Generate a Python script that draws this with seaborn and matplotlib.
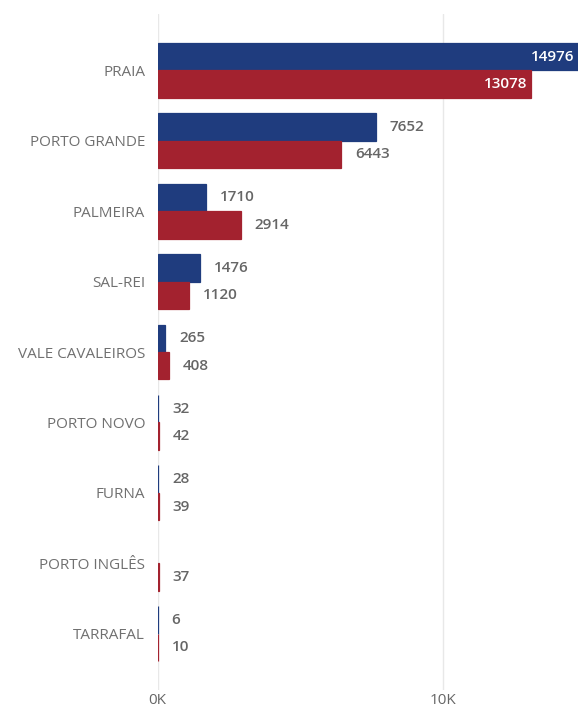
import matplotlib
matplotlib.use("Agg")
import matplotlib.pyplot as plt
import numpy as np
import pandas as pd
import seaborn as sns
from matplotlib.ticker import FuncFormatter

locais = ["PRAIA", "PORTO GRANDE", "PALMEIRA", "SAL-REI", "VALE CAVALEIROS",
          "PORTO NOVO", "FURNA", "PORTO INGLÊS", "TARRAFAL"]
serie_azul = [14976, 7652, 1710, 1476, 265, 32, 28, np.nan, 6]
serie_vermelha = [13078, 6443, 2914, 1120, 408, 42, 39, 37, 10]
series = ["azul", "vermelha"]
x_ticks = [0, 10000]

AZUL = "#1F3C7E"
VERMELHO = "#A3222F"
CINZA = "#666666"

df = pd.DataFrame({
    "local": locais * 2,
    "serie": [series[0]] * len(locais) + [series[1]] * len(locais),
    "valor": serie_azul + serie_vermelha,
})

sns.set_style("white")
plt.rcParams["font.family"] = ["Open Sans", "DejaVu Sans"]

fig = plt.figure(figsize=(5.78, 7.11), dpi=100)
ax = fig.add_axes([0.2725, 0.0295, 0.7275, 0.9508])

sns.barplot(
    data=df, y="local", x="valor", hue="serie", order=locais, hue_order=series,
    palette=[AZUL, VERMELHO], orient="h", width=0.78, gap=0, saturation=1,
    legend=False, ax=ax,
)

xmax = 14730
ax.set_xlim(0, xmax)
ax.set_ylim(len(locais) - 1 + 0.80, -0.80)
ax.set_xticks(x_ticks)
ax.xaxis.set_major_formatter(FuncFormatter(lambda v, _: f"{v / 1000:.0f}K"))
ax.grid(axis="x", color="#E8E8E8", linewidth=1)
ax.set_axisbelow(True)
for s in ax.spines.values():
    s.set_visible(False)
ax.set_xlabel("")
ax.set_ylabel("")
ax.tick_params(axis="both", length=0, colors=CINZA, labelsize=11)
ax.tick_params(axis="y", pad=9)
ax.tick_params(axis="x", pad=2)
for lab in ax.get_yticklabels():
    lab.set_color("#707070")

for cont, valores, cor in zip(ax.containers, [serie_azul, serie_vermelha], [AZUL, VERMELHO]):
    for bar in cont:
        bar.set_edgecolor(cor)
        bar.set_linewidth(0.9)
        yc = bar.get_y() + bar.get_height() / 2
        v = valores[int(round(yc))]
        if np.isnan(v):
            continue
        if v > 0.8 * xmax:
            xe = min(v, xmax)
            ax.text(xe - 0.008 * xmax, yc, f"{v:.0f}", color="white", fontsize=11,
                    fontweight="semibold", ha="right", va="center")
        else:
            ax.text(v + 0.033 * xmax, yc, f"{v:.0f}", color=CINZA, fontsize=11,
                    fontweight="semibold", ha="left", va="center")

fig.savefig("out.png", dpi=100)
